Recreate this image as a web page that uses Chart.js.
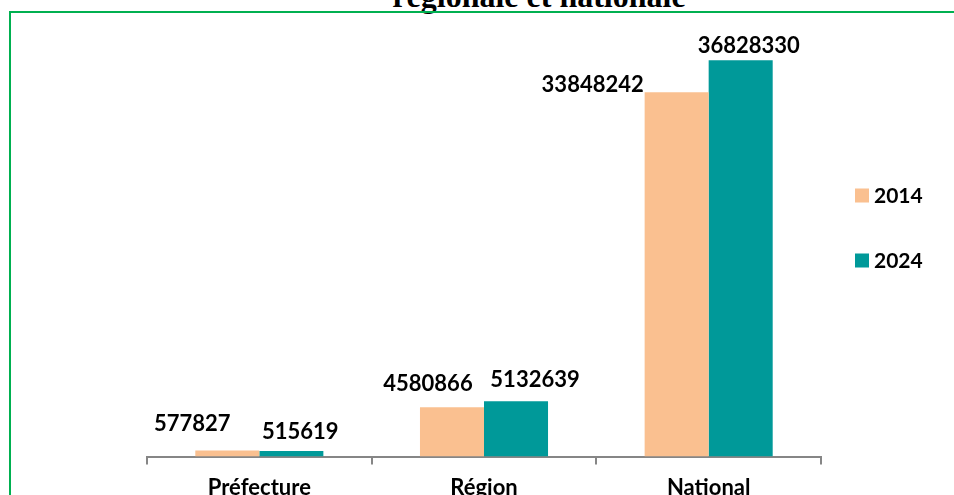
<!DOCTYPE html>
<html>
<head>
<meta charset="utf-8">
<script src="https://cdn.jsdelivr.net/npm/chart.js@4"></script>
<style>
  html,body{margin:0;padding:0;background:#fff;overflow:hidden;}
  #wrap{position:relative;width:954px;height:495px;overflow:hidden;}
  #title{position:absolute;left:0;width:1078px;top:-20px;text-align:center;line-height:32px;
    font-family:"Liberation Serif","Times New Roman",serif;font-weight:bold;font-size:32px;color:#000;}
  #frame{position:absolute;left:9px;top:11px;width:1000px;height:600px;border:2.5px solid #00b050;box-sizing:border-box;}
  #c{position:absolute;left:0;top:0;}
</style>
</head>
<body>
<div id="wrap">
  <div id="title">régionale et nationale</div>
  <div id="frame"></div>
  <canvas id="c" width="954" height="511"></canvas>
</div>
<script>
// ===================== Daten =====================
const categories = ["Préfecture","Région","National"];
const pop2014 = [577827, 4580866, 33848242];
const pop2024 = [515619, 5132639, 36828330];
const seriesNames = ["2014","2024"];

// ===================== Stil =====================
const colors = ["#fac090","#009999"];
const FONT = "Lato, 'Open Sans', sans-serif";
// Versatz der Werte-Etiketten (x zur Balkenmitte, y zur Balkenoberkante)
const labelOffsets = [
    [[-35,-26],[-24,-23],[-84,-7]],
    [[9,-19],[19,-21],[8,-14]]
];

const valueLabels = {
    id:"valueLabels",
    afterDatasetsDraw(chart){
        const ctx = chart.ctx;
        ctx.save();
        ctx.font = "bold 22px " + FONT;
        ctx.fillStyle = "#000";
        ctx.textAlign = "center";
        ctx.textBaseline = "middle";
        chart.data.datasets.forEach((ds,di)=>{
            chart.getDatasetMeta(di).data.forEach((bar,i)=>{
                const o = labelOffsets[di][i];
                ctx.fillText(String(ds.data[i]), bar.x+o[0], bar.y+o[1]);
            });
        });
        ctx.restore();
    }
};

const sideLegend = {
    id:"sideLegend",
    afterDraw(chart){
        const ctx = chart.ctx;
        ctx.save();
        ctx.font = "bold 21px " + FONT;
        ctx.textBaseline = "middle";
        ctx.textAlign = "left";
        chart.data.datasets.forEach((ds,i)=>{
            const y = 195.5 + i*65;
            ctx.fillStyle = ds.backgroundColor;
            ctx.fillRect(855, y-7, 14, 14);
            ctx.fillStyle = "#000";
            ctx.fillText(ds.label, 874, y+1);
        });
        ctx.restore();
    }
};

new Chart(document.getElementById("c"),{
    type:"bar",
    data:{
        labels:categories,
        datasets:[
            {label:seriesNames[0], data:pop2014, backgroundColor:colors[0]},
            {label:seriesNames[1], data:pop2024, backgroundColor:colors[1]}
        ]
    },
    options:{
        responsive:false,
        animation:false,
        layout:{padding:{left:147, right:133, top:26, bottom:0}},
        plugins:{legend:{display:false}, tooltip:{enabled:false}},
        datasets:{bar:{categoryPercentage:0.57, barPercentage:1}},
        scales:{
            x:{
                grid:{display:true, drawOnChartArea:false, drawTicks:true, tickLength:8, color:"#868686", lineWidth:2, offset:true},
                border:{display:true, color:"#868686", width:2},
                ticks:{color:"#000", font:{family:FONT, size:22, weight:"bold"}, padding:10}
            },
            y:{display:false, min:0, max:40000000}
        }
    },
    plugins:[valueLabels, sideLegend]
});
</script>
</body>
</html>
